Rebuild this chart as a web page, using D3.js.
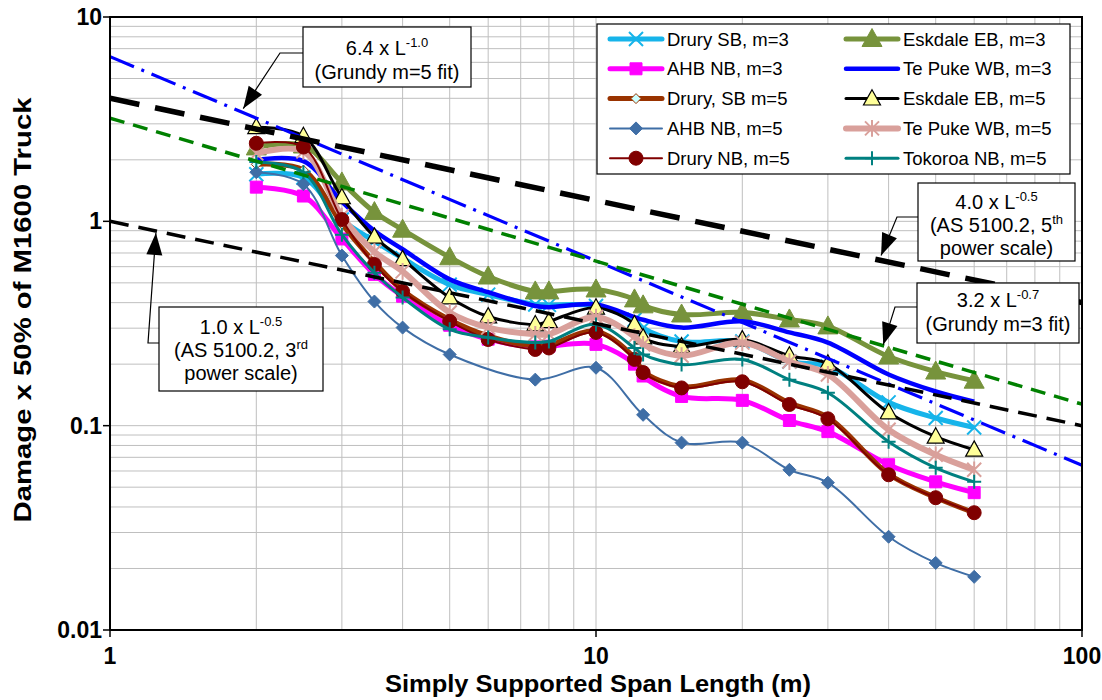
<!DOCTYPE html>
<html>
<head>
<meta charset="utf-8">
<script src="https://cdn.jsdelivr.net/npm/d3@7"></script>
<style>
  body { margin: 0; background: #fff; }
  text { font-family: "Liberation Sans", Arial, sans-serif; }
</style>
</head>
<body>
<svg id="chart" width="1102" height="700"></svg>
<script>
// span lengths (m) shared by every series; null = no point at that span
const spans = [2, 2.5, 3, 3.5, 4, 5, 6, 7.5, 8, 10, 12, 12.5, 15, 20, 25, 30, 40, 50, 60];

const drurySB3   = [1.70, 1.64, 1.02, 0.80, 0.66, 0.49, 0.438, 0.392, 0.39, 0.385, 0.33, 0.30, 0.258, 0.258, 0.206, 0.195, 0.130, 0.109, 0.098];
const eskdaleEB3 = [2.30, 2.35, 1.55, 1.11, 0.91, 0.667, 0.537, 0.454, 0.454, 0.464, 0.415, 0.388, 0.35, 0.358, 0.331, 0.306, 0.218, 0.184, 0.166];
const ahbNB3     = [1.47, 1.33, 0.82, 0.55, 0.43, 0.31, 0.265, 0.243, 0.245, 0.25, 0.20, 0.175, 0.139, 0.133, 0.106, 0.0935, 0.0644, 0.0531, 0.047];
const tePukeWB3  = [2.00, 1.97, 1.25, 0.90, 0.73, 0.52, 0.45, 0.385, 0.38, 0.392, 0.34, 0.33, 0.302, 0.324, 0.286, 0.255, 0.178, 0.147, 0.131];
const drurySB5   = [1.90, 1.78, 0.97, 0.63, 0.46, 0.33, 0.275, 0.245, 0.248, 0.29, 0.215, 0.185, 0.155, 0.167, 0.129, 0.11, 0.058, 0.0445, 0.0375];
const eskdaleEB5 = [2.89, 2.61, 1.31, 0.84, 0.652, 0.424, 0.342, 0.313, 0.324, 0.378, 0.313, 0.27, 0.244, 0.264, 0.22, 0.201, 0.116, 0.0883, 0.0762];
const ahbNB5     = [1.74, 1.52, 0.68, 0.405, 0.302, 0.223, null, 0.168, null, 0.192, null, 0.113, 0.0826, 0.0826, 0.0608, 0.0526, 0.0286, 0.0213, 0.0182];
const tePukeWB5  = [2.15, 2.20, 1.06, 0.71, 0.569, 0.358, 0.302, 0.28, 0.28, 0.34, 0.273, 0.25, 0.22, 0.255, 0.206, 0.178, 0.0955, 0.072, 0.0608];
const druryNB5   = [2.41, 2.31, 1.02, 0.615, 0.454, 0.324, 0.264, 0.236, 0.24, 0.286, 0.211, 0.182, 0.153, 0.164, 0.127, 0.108, 0.0575, 0.0444, 0.0375];
const tokoroaNB5 = [1.95, 1.74, 0.86, 0.56, 0.424, 0.296, 0.27, 0.255, 0.258, 0.313, 0.24, 0.223, 0.199, 0.211, 0.168, 0.145, 0.0835, 0.0622, 0.0531];

const seriesNames = ['Drury SB, m=3', 'Eskdale EB, m=3', 'AHB NB, m=3', 'Te Puke WB, m=3', 'Drury, SB m=5',
                     'Eskdale EB, m=5', 'AHB NB, m=5', 'Te Puke WB, m=5', 'Drury NB, m=5', 'Tokoroa NB, m=5'];
const seriesValues = [drurySB3, eskdaleEB3, ahbNB3, tePukeWB3, drurySB5, eskdaleEB5, ahbNB5, tePukeWB5, druryNB5, tokoroaNB5];

// reference curves  y = a * L^b
const refCoef = [6.4, 4.0, 3.2, 1.0];
const refExp = [-1.0, -0.5, -0.7, -0.5];

const xTicks = [1, 10, 100];
const yTicks = [0.01, 0.1, 1, 10];
const yTickLabels = ['0.01', '0.1', '1', '10'];

// styles (kept apart from data)
const styles = {
  'Drury SB, m=3':   { color: '#16B4EA', width: 5,   marker: 'x',        size: 7,  fill: 'none',    mstroke: '#16B4EA', msw: 2 },
  'Eskdale EB, m=3': { color: '#77933C', width: 5,   marker: 'triangle', size: 10, fill: '#77933C', mstroke: '#77933C', msw: 1 },
  'AHB NB, m=3':     { color: '#FF00FF', width: 5,   marker: 'square',   size: 6,  fill: '#FF00FF', mstroke: '#FF00FF', msw: 1 },
  'Te Puke WB, m=3': { color: '#0000FF', width: 4.5, marker: null },
  'Drury, SB m=5':   { color: '#993300', width: 5,   marker: 'diamond',  size: 5,  fill: '#CCFFFF', mstroke: '#993300', msw: 1 },
  'Eskdale EB, m=5': { color: '#000000', width: 3,   marker: 'triangle', size: 8.5, fill: '#FFFF99', mstroke: '#000000', msw: 1.2 },
  'AHB NB, m=5':     { color: '#3F6EA6', width: 2,   marker: 'diamond',  size: 6.5, fill: '#3F6EA6', mstroke: '#3F6EA6', msw: 1 },
  'Te Puke WB, m=5': { color: '#D9A09B', width: 6,   marker: 'star',     size: 7,  fill: 'none',    mstroke: '#D9A09B', msw: 2 },
  'Drury NB, m=5':   { color: '#800000', width: 2,   marker: 'circle',   size: 7,  fill: '#800000', mstroke: '#800000', msw: 1 },
  'Tokoroa NB, m=5': { color: '#008080', width: 3,   marker: 'plus',     size: 7,  fill: 'none',    mstroke: '#008080', msw: 2 }
};
const refStyles = [
  { color: '#0000FF', width: 3.2, dash: '26,8,3,8' },
  { color: '#000000', width: 5.5, dash: '30,16' },
  { color: '#008000', width: 3.5, dash: '15,9' },
  { color: '#000000', width: 3.5, dash: '19,10' }
];

const margin = { top: 17, right: 20, bottom: 70, left: 110 };
const W = 1102, H = 700;
const svg = d3.select('#chart');

const x = d3.scaleLog().domain([1, 100]).range([margin.left, W - margin.right]);
const y = d3.scaleLog().domain([0.01, 10]).range([H - margin.bottom, margin.top]);

// grid
const minorX = [], minorY = [];
[1, 10].forEach(d => { for (let k = 2; k <= 9; k++) minorX.push(d * k); });
[0.01, 0.1, 1].forEach(d => { for (let k = 2; k <= 9; k++) minorY.push(d * k); });
const grid = svg.append('g').attr('stroke', '#BFBFBF').attr('stroke-width', 1);
grid.selectAll('line.gx').data(minorX.concat([10])).join('line')
  .attr('x1', d => x(d)).attr('x2', d => x(d))
  .attr('y1', y(0.01)).attr('y2', y(10));
grid.selectAll('line.gy').data(minorY.concat([0.1, 1])).join('line')
  .attr('y1', d => y(d)).attr('y2', d => y(d))
  .attr('x1', x(1)).attr('x2', x(100));

svg.append('defs').append('clipPath').attr('id', 'plotclip')
  .append('rect').attr('x', x(1)).attr('y', y(10)).attr('width', x(100) - x(1)).attr('height', y(0.01) - y(10));

function markerPath(type, s) {
  if (type === 'x') return `M${-s},${-s}L${s},${s}M${-s},${s}L${s},${-s}`;
  if (type === 'plus') return `M${-s},0L${s},0M0,${-s}L0,${s}`;
  if (type === 'star') return `M${-s},${-s}L${s},${s}M${-s},${s}L${s},${-s}M0,${-s * 1.2}L0,${s * 1.2}`;
  if (type === 'square') return `M${-s},${-s}H${s}V${s}H${-s}Z`;
  if (type === 'diamond') return `M0,${-s}L${s},0L0,${s}L${-s},0Z`;
  if (type === 'triangle') return `M0,${-s * 1.05}L${s},${s * 0.75}L${-s},${s * 0.75}Z`;
  if (type === 'circle') return d3.symbol(d3.symbolCircle, Math.PI * s * s)();
  return '';
}

function drawMarker(g, st, px, py) {
  if (!st.marker) return;
  g.append('path')
    .attr('d', markerPath(st.marker, st.size))
    .attr('transform', `translate(${px},${py})`)
    .attr('fill', st.fill)
    .attr('stroke', st.mstroke)
    .attr('stroke-width', st.msw);
}

const line = d3.line()
  .defined(d => d[1] != null)
  .x(d => x(d[0])).y(d => y(d[1]))
  .curve(d3.curveCatmullRom.alpha(0.5));

const seriesG = svg.append('g');
seriesNames.forEach((name, i) => {
  const st = styles[name];
  const pts = spans.map((s, j) => [s, seriesValues[i][j]]).filter(d => d[1] != null);
  const g = seriesG.append('g');
  g.append('path').datum(pts)
    .attr('d', line)
    .attr('fill', 'none')
    .attr('stroke', st.color)
    .attr('stroke-width', st.width)
    .attr('stroke-linejoin', 'round');
  pts.forEach(p => drawMarker(g, st, x(p[0]), y(p[1])));
});

// reference power-law lines
const refG = svg.append('g').attr('clip-path', 'url(#plotclip)');
refCoef.forEach((a, i) => {
  const pts = [1, 100].map(L => [L, a * Math.pow(L, refExp[i])]);
  refG.append('line')
    .attr('x1', x(pts[0][0])).attr('y1', y(pts[0][1]))
    .attr('x2', x(pts[1][0])).attr('y2', y(pts[1][1]))
    .attr('stroke', refStyles[i].color)
    .attr('stroke-width', refStyles[i].width)
    .attr('stroke-dasharray', refStyles[i].dash);
});

// frame and axes
svg.append('rect')
  .attr('x', x(1)).attr('y', y(10))
  .attr('width', x(100) - x(1)).attr('height', y(0.01) - y(10))
  .attr('fill', 'none').attr('stroke', '#000').attr('stroke-width', 2);

const yAxis = svg.append('g');
yTicks.forEach((t, i) => {
  yAxis.append('line').attr('x1', x(1) - 7).attr('x2', x(1)).attr('y1', y(t)).attr('y2', y(t))
    .attr('stroke', '#000').attr('stroke-width', 1.5);
  yAxis.append('text').attr('x', x(1) - 8).attr('y', y(t)).attr('dy', '0.35em')
    .attr('text-anchor', 'end').attr('font-weight', 'bold').attr('font-size', 23)
    .text(yTickLabels[i]);
});
const xAxis = svg.append('g');
xTicks.forEach(t => {
  xAxis.append('line').attr('x1', x(t)).attr('x2', x(t)).attr('y1', y(0.01)).attr('y2', y(0.01) + 7)
    .attr('stroke', '#000').attr('stroke-width', 1.5);
  xAxis.append('text').attr('x', x(t)).attr('y', y(0.01) + 34)
    .attr('text-anchor', 'middle').attr('font-weight', 'bold').attr('font-size', 23)
    .text(t);
});

svg.append('text')
  .attr('x', 598).attr('y', 692)
  .attr('text-anchor', 'middle').attr('font-weight', 'bold').attr('font-size', 23)
  .attr('textLength', 426).attr('lengthAdjust', 'spacingAndGlyphs')
  .text('Simply Supported Span Length (m)');
svg.append('text')
  .attr('transform', 'translate(31,310) rotate(-90)')
  .attr('text-anchor', 'middle').attr('font-weight', 'bold').attr('font-size', 24)
  .attr('textLength', 425).attr('lengthAdjust', 'spacingAndGlyphs')
  .text('Damage x 50% of M1600 Truck');

// callout annotations
const notes = [
  { box: [303, 27, 168, 60], lines: [['6.4 x L', '-1.0'], ['(Grundy m=5 fit)']], base: [55, 79],
    elbow: [[303, 53], [280, 53]], tipX: 1.88, ref: 0, off: -4 },
  { box: [918, 183, 157, 78], lines: [['4.0 x L', '-0.5'], ['(AS 5100.2, 5', 'th'], ['power scale)']], base: [209, 232, 255],
    elbow: [[918, 217], [897, 217]], tipX: 38.6, ref: 1, off: -5 },
  { box: [917, 283, 162, 60], lines: [['3.2 x L', '-0.7'], ['(Grundy m=3 fit)']], base: [307, 331],
    elbow: [[917, 307], [895, 307]], tipX: 39, ref: 2, off: -1 },
  { box: [159, 307, 164, 84], lines: [['1.0 x L', '-0.5'], ['(AS 5100.2, 3', 'rd'], ['power scale)']], base: [334, 357, 380],
    elbow: [[159, 343], [148, 343]], tipX: 1.243, ref: 3, off: 2 }
];
const noteG = svg.append('g');
notes.forEach(n => {
  const tip = [x(n.tipX), y(refCoef[n.ref] * Math.pow(n.tipX, refExp[n.ref])) + n.off];
  const e = n.elbow[1];
  noteG.append('path')
    .attr('d', `M${n.elbow[0][0]},${n.elbow[0][1]}L${e[0]},${e[1]}L${tip[0]},${tip[1]}`)
    .attr('fill', 'none').attr('stroke', '#000').attr('stroke-width', 1.2);
  const ang = Math.atan2(tip[1] - e[1], tip[0] - e[0]);
  const len = 22, half = 8;
  const bx = tip[0] - len * Math.cos(ang), by = tip[1] - len * Math.sin(ang);
  noteG.append('path')
    .attr('d', `M${tip[0]},${tip[1]}L${bx + half * Math.sin(ang)},${by - half * Math.cos(ang)}L${bx - half * Math.sin(ang)},${by + half * Math.cos(ang)}Z`)
    .attr('fill', '#000');
  noteG.append('rect')
    .attr('x', n.box[0]).attr('y', n.box[1]).attr('width', n.box[2]).attr('height', n.box[3])
    .attr('fill', '#fff').attr('stroke', '#000').attr('stroke-width', 1.2);
  n.lines.forEach((ln, k) => {
    const t = noteG.append('text')
      .attr('x', n.box[0] + n.box[2] / 2).attr('y', n.base[k])
      .attr('text-anchor', 'middle').attr('font-size', 20);
    t.append('tspan').text(ln[0]);
    if (ln[1]) t.append('tspan').attr('font-size', 13).attr('dy', -8).text(ln[1]);
  });
});

// legend
const legend = svg.append('g');
legend.append('rect').attr('x', 597).attr('y', 24).attr('width', 473).attr('height', 150)
  .attr('fill', '#fff').attr('stroke', '#000').attr('stroke-width', 1.2);
seriesNames.forEach((name, i) => {
  const st = styles[name];
  const col = i % 2, row = Math.floor(i / 2);
  const lx = col === 0 ? 610 : 846;
  const ly = 39 + row * 29.8;
  legend.append('line').attr('x1', lx).attr('x2', lx + 52).attr('y1', ly).attr('y2', ly)
    .attr('stroke', st.color).attr('stroke-width', st.width).attr('stroke-linecap', 'round');
  drawMarker(legend, st, lx + 26, ly);
  legend.append('text').attr('x', lx + 57).attr('y', ly).attr('dy', '0.36em')
    .attr('font-size', 18.5).text(name);
});
</script>
</body>
</html>
